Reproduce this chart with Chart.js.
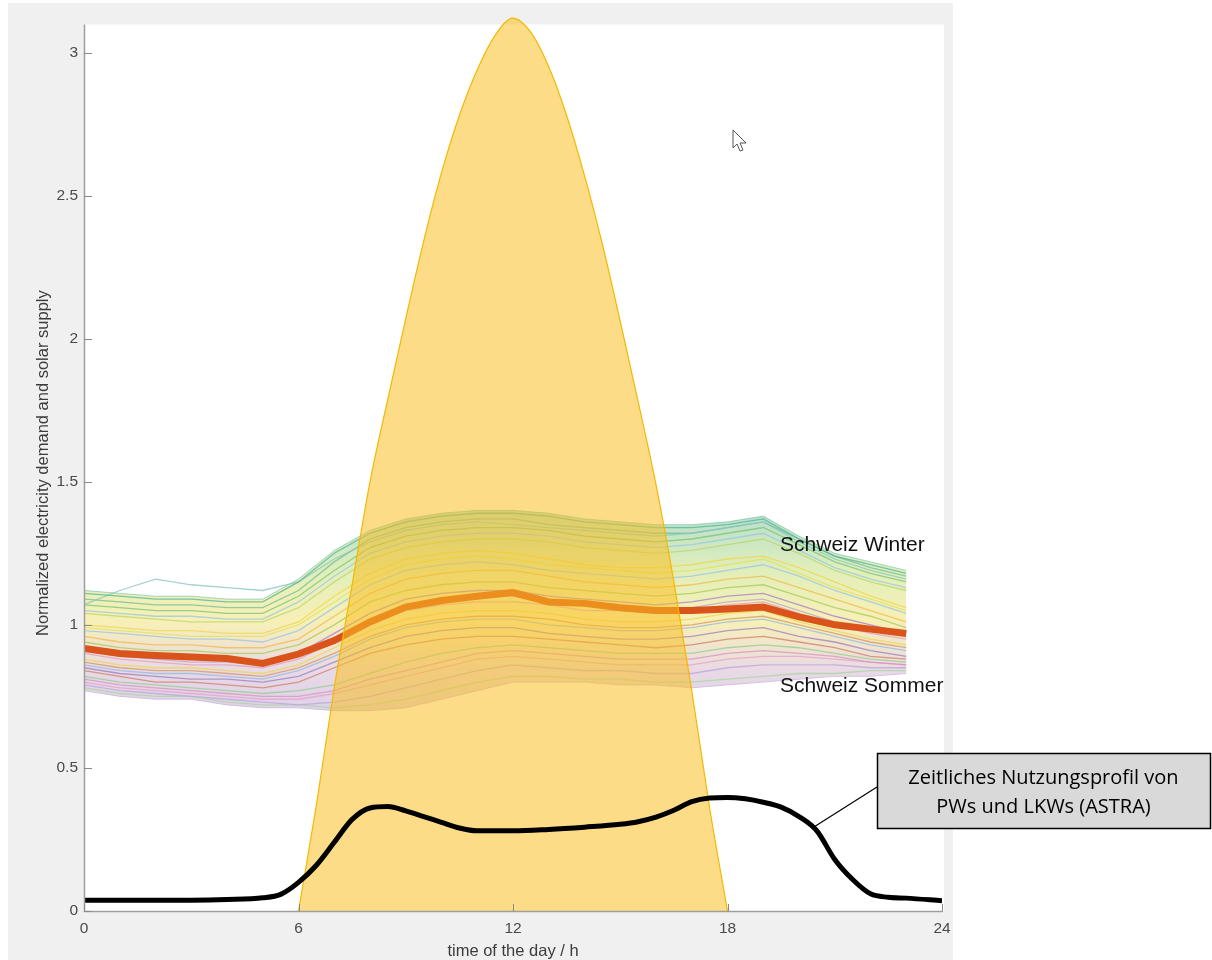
<!DOCTYPE html>
<html>
<head>
<meta charset="utf-8">
<script src="https://cdn.jsdelivr.net/npm/chart.js@4.4.1/dist/chart.umd.min.js"></script>
<style>
    html, body { margin: 0; padding: 0; background: #ffffff; }
    #chart { display: block; }
</style>
</head>
<body>
<canvas id="chart" width="1212" height="960"></canvas>
<script>
// Axis ticks
const xTicks = [0, 6, 12, 18, 24];
const yTicks = [0, 0.5, 1, 1.5, 2, 2.5, 3];

// Hourly demand profiles (one line per day)
const hours = [0, 1, 2, 3, 4, 5, 6, 7, 8, 9, 10, 11, 12, 13, 14, 15, 16, 17, 18, 19, 20, 21, 22, 23];
const day01 = [1.11, 1.10, 1.09, 1.09, 1.08, 1.08, 1.15, 1.25, 1.32, 1.36, 1.38, 1.39, 1.39, 1.38, 1.36, 1.35, 1.34, 1.34, 1.35, 1.37, 1.30, 1.24, 1.21, 1.18];
const day02 = [1.07, 1.12, 1.16, 1.14, 1.13, 1.12, 1.15, 1.23, 1.29, 1.33, 1.35, 1.36, 1.35, 1.34, 1.33, 1.32, 1.31, 1.32, 1.34, 1.36, 1.29, 1.23, 1.19, 1.16];
const day03 = [1.07, 1.06, 1.05, 1.05, 1.04, 1.04, 1.10, 1.19, 1.27, 1.31, 1.33, 1.34, 1.34, 1.33, 1.31, 1.30, 1.29, 1.30, 1.32, 1.34, 1.28, 1.22, 1.18, 1.15];
const day04 = [1.04, 1.03, 1.02, 1.01, 1.01, 1.01, 1.06, 1.15, 1.23, 1.27, 1.29, 1.30, 1.30, 1.29, 1.27, 1.26, 1.25, 1.26, 1.28, 1.30, 1.25, 1.19, 1.15, 1.12];
const day05 = [1.00, 0.99, 0.98, 0.98, 0.97, 0.97, 1.01, 1.10, 1.18, 1.23, 1.25, 1.26, 1.25, 1.23, 1.21, 1.20, 1.20, 1.21, 1.23, 1.24, 1.20, 1.15, 1.10, 1.06];
const day06 = [0.98, 0.97, 0.96, 0.95, 0.95, 0.94, 0.98, 1.06, 1.14, 1.19, 1.21, 1.22, 1.21, 1.19, 1.18, 1.17, 1.16, 1.17, 1.19, 1.21, 1.17, 1.12, 1.08, 1.04];
const day07 = [0.96, 0.94, 0.93, 0.93, 0.92, 0.92, 0.95, 1.03, 1.11, 1.16, 1.18, 1.19, 1.19, 1.17, 1.15, 1.14, 1.13, 1.14, 1.16, 1.17, 1.13, 1.09, 1.05, 1.01];
const day08 = [0.94, 0.92, 0.91, 0.91, 0.90, 0.90, 0.93, 1.00, 1.08, 1.12, 1.14, 1.15, 1.15, 1.13, 1.12, 1.11, 1.10, 1.11, 1.13, 1.14, 1.10, 1.06, 1.03, 0.99];
const day09 = [0.92, 0.90, 0.89, 0.88, 0.88, 0.87, 0.90, 0.97, 1.04, 1.09, 1.11, 1.12, 1.12, 1.10, 1.09, 1.08, 1.07, 1.08, 1.10, 1.11, 1.07, 1.03, 1.00, 0.97];
const day10 = [0.90, 0.88, 0.87, 0.86, 0.86, 0.85, 0.88, 0.94, 1.01, 1.05, 1.07, 1.08, 1.08, 1.07, 1.05, 1.05, 1.04, 1.05, 1.07, 1.08, 1.04, 1.00, 0.97, 0.95];
const day11 = [0.88, 0.86, 0.85, 0.85, 0.84, 0.83, 0.86, 0.92, 0.98, 1.02, 1.04, 1.05, 1.05, 1.04, 1.02, 1.01, 1.01, 1.02, 1.04, 1.05, 1.01, 0.98, 0.95, 0.93];
const day12 = [0.86, 0.84, 0.83, 0.83, 0.82, 0.81, 0.84, 0.89, 0.95, 0.99, 1.01, 1.02, 1.02, 1.00, 0.99, 0.98, 0.98, 0.99, 1.01, 1.02, 0.99, 0.96, 0.93, 0.91];
const day13 = [0.85, 0.83, 0.82, 0.81, 0.81, 0.80, 0.82, 0.87, 0.92, 0.96, 0.98, 0.99, 0.99, 0.97, 0.96, 0.95, 0.95, 0.96, 0.98, 0.99, 0.96, 0.94, 0.91, 0.89];
const day14 = [0.84, 0.82, 0.80, 0.80, 0.79, 0.78, 0.80, 0.85, 0.90, 0.93, 0.95, 0.96, 0.96, 0.95, 0.94, 0.93, 0.92, 0.93, 0.95, 0.96, 0.94, 0.92, 0.89, 0.88];
const day15 = [0.82, 0.80, 0.79, 0.78, 0.77, 0.76, 0.77, 0.79, 0.83, 0.87, 0.90, 0.92, 0.93, 0.92, 0.91, 0.90, 0.90, 0.90, 0.92, 0.93, 0.92, 0.90, 0.88, 0.87];
const day16 = [0.80, 0.78, 0.77, 0.76, 0.75, 0.74, 0.74, 0.76, 0.79, 0.82, 0.85, 0.88, 0.89, 0.88, 0.87, 0.86, 0.86, 0.86, 0.88, 0.89, 0.89, 0.88, 0.87, 0.86];
const day17 = [0.79, 0.77, 0.76, 0.75, 0.74, 0.73, 0.72, 0.73, 0.75, 0.78, 0.81, 0.84, 0.86, 0.85, 0.84, 0.84, 0.83, 0.83, 0.85, 0.86, 0.86, 0.86, 0.85, 0.85];
const day18 = [0.78, 0.76, 0.75, 0.75, 0.73, 0.72, 0.72, 0.71, 0.72, 0.74, 0.77, 0.80, 0.82, 0.82, 0.81, 0.81, 0.80, 0.80, 0.81, 0.82, 0.83, 0.83, 0.84, 0.84];
const day19 = [1.09, 1.08, 1.07, 1.07, 1.06, 1.06, 1.12, 1.22, 1.30, 1.34, 1.36, 1.37, 1.37, 1.35, 1.34, 1.33, 1.32, 1.32, 1.34, 1.36, 1.30, 1.24, 1.20, 1.17];
const day20 = [0.99, 0.98, 0.97, 0.96, 0.96, 0.96, 1.00, 1.08, 1.16, 1.21, 1.23, 1.24, 1.23, 1.21, 1.20, 1.19, 1.18, 1.19, 1.21, 1.23, 1.18, 1.13, 1.09, 1.05];
const day21 = [0.91, 0.89, 0.88, 0.87, 0.87, 0.86, 0.89, 0.95, 1.02, 1.07, 1.09, 1.10, 1.10, 1.08, 1.07, 1.06, 1.05, 1.06, 1.08, 1.09, 1.05, 1.01, 0.98, 0.96];
const day22 = [0.87, 0.85, 0.84, 0.84, 0.83, 0.82, 0.85, 0.90, 0.96, 1.00, 1.02, 1.03, 1.03, 1.02, 1.00, 0.99, 0.99, 1.00, 1.02, 1.03, 1.00, 0.97, 0.94, 0.92];
const day23 = [0.81, 0.79, 0.78, 0.77, 0.76, 0.75, 0.75, 0.77, 0.81, 0.84, 0.87, 0.90, 0.91, 0.90, 0.89, 0.88, 0.88, 0.88, 0.90, 0.91, 0.90, 0.89, 0.87, 0.86];
const day24 = [1.05, 1.04, 1.03, 1.03, 1.02, 1.02, 1.08, 1.17, 1.25, 1.29, 1.31, 1.32, 1.32, 1.31, 1.29, 1.28, 1.27, 1.28, 1.30, 1.32, 1.26, 1.20, 1.16, 1.13];

// Envelope of the whole bundle of daily curves
const bandUpper = [1.12, 1.11, 1.10, 1.10, 1.09, 1.09, 1.16, 1.26, 1.33, 1.37, 1.39, 1.40, 1.40, 1.39, 1.37, 1.36, 1.35, 1.35, 1.36, 1.38, 1.31, 1.25, 1.22, 1.19];
const bandLower = [0.77, 0.75, 0.74, 0.74, 0.72, 0.71, 0.71, 0.70, 0.70, 0.71, 0.74, 0.77, 0.80, 0.80, 0.80, 0.79, 0.79, 0.78, 0.79, 0.80, 0.81, 0.82, 0.82, 0.83];

// Mean demand
const meanDemand = [0.917, 0.90, 0.893, 0.888, 0.882, 0.865, 0.898, 0.945, 1.01, 1.062, 1.085, 1.10, 1.113, 1.08, 1.075, 1.06, 1.05, 1.05, 1.055, 1.062, 1.028, 1.0, 0.985, 0.97];

// Solar supply
const solarHours = [6, 6.5, 7, 7.5, 8, 8.5, 9, 9.5, 10, 10.5, 11, 11.5, 12, 12.5, 13, 13.5, 14, 14.5, 15, 15.5, 16, 16.5, 17, 17.5, 18];
const solarSupply = [0, 0.37, 0.78, 1.14, 1.50, 1.79, 2.07, 2.34, 2.58, 2.78, 2.94, 3.06, 3.12, 3.07, 2.95, 2.78, 2.57, 2.33, 2.06, 1.78, 1.49, 1.15, 0.77, 0.36, 0];

// Traffic profile (ASTRA)
const trafficHours = [0, 1, 2, 3, 4, 5, 5.5, 6, 6.5, 7, 7.5, 8, 8.5, 9, 9.5, 10, 10.5, 11, 12, 13, 14, 15, 15.5, 16, 16.5, 17, 17.5, 18, 18.5, 19, 19.5, 20, 20.5, 21, 21.5, 22, 22.5, 23, 24];
const trafficProfile = [0.038, 0.038, 0.038, 0.038, 0.040, 0.046, 0.058, 0.10, 0.16, 0.24, 0.32, 0.36, 0.365, 0.35, 0.33, 0.31, 0.29, 0.28, 0.28, 0.285, 0.293, 0.303, 0.312, 0.328, 0.352, 0.382, 0.395, 0.397, 0.392, 0.38, 0.363, 0.33, 0.28, 0.18, 0.11, 0.06, 0.048, 0.045, 0.036];

const dayLines = [
    { values: day01, color: 'rgba(80, 180, 155, 0.75)' },
    { values: day02, color: 'rgba(140, 200, 195, 0.8)' },
    { values: day19, color: 'rgba(110, 190, 150, 0.75)' },
    { values: day03, color: 'rgba(120, 195, 120, 0.75)' },
    { values: day24, color: 'rgba(150, 200, 225, 0.75)' },
    { values: day04, color: 'rgba(185, 215, 105, 0.75)' },
    { values: day05, color: 'rgba(240, 215, 70, 0.75)' },
    { values: day20, color: 'rgba(225, 225, 90, 0.75)' },
    { values: day06, color: 'rgba(155, 195, 230, 0.75)' },
    { values: day07, color: 'rgba(240, 185, 75, 0.75)' },
    { values: day08, color: 'rgba(170, 200, 90, 0.75)' },
    { values: day09, color: 'rgba(165, 125, 200, 0.75)' },
    { values: day21, color: 'rgba(190, 160, 215, 0.75)' },
    { values: day10, color: 'rgba(225, 155, 195, 0.75)' },
    { values: day11, color: 'rgba(235, 215, 75, 0.75)' },
    { values: day22, color: 'rgba(215, 150, 95, 0.75)' },
    { values: day12, color: 'rgba(145, 185, 225, 0.75)' },
    { values: day13, color: 'rgba(155, 125, 190, 0.75)' },
    { values: day14, color: 'rgba(205, 125, 100, 0.75)' },
    { values: day15, color: 'rgba(145, 205, 140, 0.75)' },
    { values: day23, color: 'rgba(215, 145, 190, 0.75)' },
    { values: day16, color: 'rgba(230, 160, 200, 0.75)' },
    { values: day17, color: 'rgba(185, 165, 215, 0.75)' },
    { values: day18, color: 'rgba(165, 215, 155, 0.75)' }
];

const FONT = "'Liberation Sans', Arial, sans-serif";

function points(xs, ys) {
    return xs.map((x, i) => ({ x: x, y: ys[i] }));
}

function bandGradient(context) {
    const chart = context.chart;
    if (!chart.chartArea) return 'rgba(220, 220, 160, 0.4)';
    const y = chart.scales.y;
    const g = chart.ctx.createLinearGradient(0, y.getPixelForValue(1.4), 0, y.getPixelForValue(0.7));
    g.addColorStop(0, 'rgba(120, 195, 165, 0.55)');
    g.addColorStop(0.3, 'rgba(200, 225, 130, 0.55)');
    g.addColorStop(0.55, 'rgba(240, 225, 110, 0.5)');
    g.addColorStop(0.8, 'rgba(210, 180, 205, 0.5)');
    g.addColorStop(1, 'rgba(195, 170, 215, 0.55)');
    return g;
}

const datasets = [
    {
        label: 'ASTRA',
        data: points(trafficHours, trafficProfile),
        borderColor: '#000000',
        borderWidth: 5,
        pointRadius: 0,
        cubicInterpolationMode: 'monotone',
        fill: false,
        order: 0
    },
    {
        label: 'Solar',
        data: points(solarHours, solarSupply),
        borderColor: '#f5b800',
        borderWidth: 1.2,
        backgroundColor: 'rgba(250, 191, 35, 0.55)',
        pointRadius: 0,
        cubicInterpolationMode: 'monotone',
        fill: 'origin',
        order: 1
    },
    {
        label: 'Mean',
        data: points(hours, meanDemand),
        borderColor: '#d9531a',
        borderWidth: 7,
        pointRadius: 0,
        tension: 0,
        fill: false,
        order: 2
    },
    {
        label: 'bandUpper',
        data: points(hours, bandUpper),
        borderColor: 'rgba(110, 190, 165, 0.6)',
        borderWidth: 1,
        backgroundColor: bandGradient,
        pointRadius: 0,
        fill: '+1',
        order: 4
    },
    {
        label: 'bandLower',
        data: points(hours, bandLower),
        borderColor: 'rgba(190, 165, 210, 0.6)',
        borderWidth: 1,
        pointRadius: 0,
        fill: false,
        order: 4
    }
];

dayLines.forEach((d, i) => {
    datasets.push({
        label: 'day' + (i + 1),
        data: points(hours, d.values),
        borderColor: d.color,
        borderWidth: 1.3,
        pointRadius: 0,
        tension: 0,
        fill: false,
        order: 3
    });
});

// Figure background, white axes box, axis lines, inward ticks and annotations
const figurePlugin = {
    id: 'figure',
    beforeDraw(chart) {
        const ctx = chart.ctx;
        const area = chart.chartArea;
        const y = chart.scales.y;
        ctx.save();
        ctx.fillStyle = '#ffffff';
        ctx.fillRect(0, 0, chart.width, chart.height);
        ctx.fillStyle = '#f0f0f0';
        ctx.fillRect(8, 3, 945, chart.height - 3);
        const top = y.getPixelForValue(3.098);
        ctx.fillStyle = '#ffffff';
        ctx.fillRect(area.left, top, area.right - area.left + 2, area.bottom - top);
        ctx.restore();
    },
    afterDatasetsDraw(chart) {
        const ctx = chart.ctx;
        const area = chart.chartArea;
        const x = chart.scales.x;
        const y = chart.scales.y;
        const top = y.getPixelForValue(3.098);
        ctx.save();
        ctx.strokeStyle = '#9e9e9e';
        ctx.lineWidth = 1.5;
        ctx.beginPath();
        ctx.moveTo(area.left + 0.5, top);
        ctx.lineTo(area.left + 0.5, area.bottom + 0.5);
        ctx.lineTo(area.right + 1, area.bottom + 0.5);
        ctx.stroke();
        ctx.lineWidth = 1;
        ctx.strokeStyle = '#8a8a8a';
        ctx.beginPath();
        yTicks.forEach(v => {
            const py = Math.round(y.getPixelForValue(v)) + 0.5;
            ctx.moveTo(area.left, py);
            ctx.lineTo(area.left + 8, py);
        });
        xTicks.forEach(v => {
            const px = Math.round(x.getPixelForValue(v)) + 0.5;
            ctx.moveTo(px, area.bottom);
            ctx.lineTo(px, area.bottom - 7);
        });
        ctx.stroke();
        ctx.restore();
    },
    afterDraw(chart) {
        const ctx = chart.ctx;
        const x = chart.scales.x;
        const y = chart.scales.y;
        ctx.save();

        // season labels
        ctx.fillStyle = '#111111';
        ctx.font = '21px ' + FONT;
        ctx.textAlign = 'left';
        ctx.textBaseline = 'middle';
        ctx.fillText('Schweiz Winter', x.getPixelForValue(19.47), y.getPixelForValue(1.28));
        ctx.fillText('Schweiz Sommer', x.getPixelForValue(19.47), y.getPixelForValue(0.785));

        // callout for the traffic profile
        const bx = 877, by = 753, bw = 333, bh = 75;
        ctx.strokeStyle = '#000000';
        ctx.lineWidth = 1.2;
        ctx.beginPath();
        ctx.moveTo(bx, 787);
        ctx.lineTo(x.getPixelForValue(20.45), y.getPixelForValue(0.296));
        ctx.stroke();
        ctx.fillStyle = '#d9d9d9';
        ctx.fillRect(bx, by, bw, bh);
        ctx.lineWidth = 1.5;
        ctx.strokeRect(bx + 0.5, by + 0.5, bw, bh);
        ctx.fillStyle = '#000000';
        ctx.font = "20px 'Open Sans', sans-serif";
        ctx.textAlign = 'center';
        ctx.fillText('Zeitliches Nutzungsprofil von', bx + bw / 2, 778);
        ctx.fillText('PWs und LKWs (ASTRA)', bx + bw / 2, 807);

        // mouse pointer left in the screenshot
        ctx.beginPath();
        ctx.moveTo(733, 130);
        ctx.lineTo(733, 148);
        ctx.lineTo(737, 144);
        ctx.lineTo(740, 151);
        ctx.lineTo(743, 150);
        ctx.lineTo(740, 143);
        ctx.lineTo(746, 143);
        ctx.closePath();
        ctx.fillStyle = '#ffffff';
        ctx.fill();
        ctx.strokeStyle = '#555555';
        ctx.lineWidth = 1;
        ctx.stroke();
        ctx.restore();
    }
};

new Chart(document.getElementById('chart'), {
    type: 'line',
    data: { datasets: datasets },
    options: {
        responsive: false,
        animation: false,
        devicePixelRatio: 1,
        layout: { padding: { left: 0, top: 14, right: 270, bottom: 0 } },
        plugins: {
            legend: { display: false },
            tooltip: { enabled: false }
        },
        scales: {
            x: {
                type: 'linear',
                min: 0,
                max: 24,
                afterBuildTicks: s => { s.ticks = xTicks.map(v => ({ value: v })); },
                afterFit: s => { s.height = 49; },
                grid: { display: false, drawTicks: false },
                border: { display: false },
                ticks: {
                    padding: 8,
                    color: '#4a4a4a',
                    autoSkip: false,
                    maxRotation: 0,
                    font: { family: FONT, size: 15.5 },
                    callback: v => String(v)
                },
                title: {
                    display: true,
                    text: 'time of the day / h',
                    color: '#3c3c3c',
                    font: { family: FONT, size: 16.5, lineHeight: 1 },
                    padding: { top: 0, bottom: 0 }
                }
            },
            y: {
                type: 'linear',
                min: 0,
                max: 3.13,
                afterBuildTicks: s => { s.ticks = yTicks.map(v => ({ value: v })); },
                afterFit: s => { s.width = 84; },
                grid: { display: false, drawTicks: false },
                border: { display: false },
                ticks: {
                    padding: 6,
                    color: '#4a4a4a',
                    autoSkip: false,
                    font: { family: FONT, size: 15.5 },
                    callback: v => String(v)
                },
                title: {
                    display: true,
                    text: 'Normalized electricity demand and solar supply',
                    color: '#3c3c3c',
                    font: { family: FONT, size: 16.5, lineHeight: 1 },
                    padding: { top: 35, bottom: 0 }
                }
            }
        }
    },
    plugins: [figurePlugin]
});
</script>
</body>
</html>
